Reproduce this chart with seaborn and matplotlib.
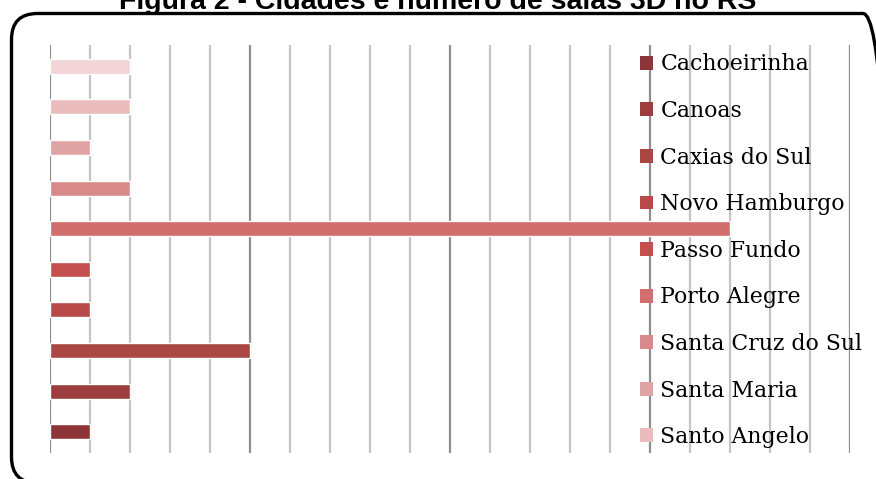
import matplotlib
matplotlib.use("Agg")
import matplotlib.pyplot as plt
from matplotlib.patches import FancyBboxPatch, Patch
import seaborn as sns
import pandas as pd

# Number of 3D cinema rooms per city (Rio Grande do Sul)
cities = ["Cachoeirinha", "Canoas", "Caxias do Sul", "Novo Hamburgo", "Passo Fundo",
          "Porto Alegre", "Santa Cruz do Sul", "Santa Maria", "Santo Angelo", "São Leopoldo"]
rooms = [1, 2, 5, 1, 1, 17, 2, 1, 2, 2]
colors = ["#8C3538", "#9C3E3E", "#AA4644", "#B84B4A", "#C44F4F",
          "#D06D6D", "#D88989", "#DFA3A3", "#EABCBD", "#F2D3D6"]
legend_count = 9
title = "Figura 2 - Cidades e número de salas 3D no RS"

df = pd.DataFrame({"cidade": cities, "salas": rooms})

sns.set_theme(style="white")
fig = plt.figure(figsize=(8.76, 4.79), dpi=100)
W, H = 876, 479
ax = fig.add_axes([50 / W, 1 - 453 / H, 800 / W, 408 / H])

sns.barplot(data=df, x="salas", y="cidade", hue="cidade", palette=colors,
            orient="h", width=0.37, legend=False, ax=ax, saturation=1)

ax.set_xlim(0, 20)
ax.set_ylim(-0.52, 9.52)
ax.set_xticks(range(0, 21, 5))
ax.set_xticks(range(0, 21, 1), minor=True)
ax.grid(False)
ax.grid(True, which="major", axis="x", color="#8E8E8E", linewidth=1.6)
ax.grid(True, which="minor", axis="x", color="#C4C4C4", linewidth=1.6)
ax.set_axisbelow(True)
ax.tick_params(which="both", length=0, labelbottom=False, labelleft=False)
ax.set_xlabel("")
ax.set_ylabel("")
for s in ax.spines.values():
    s.set_visible(False)
ax.patch.set_alpha(0)

handles = [Patch(facecolor=colors[i], edgecolor="none", label=cities[i])
           for i in range(legend_count)]
leg = fig.legend(handles=handles, loc="upper left",
                 bbox_to_anchor=(640 / W, 1 - 53.5 / H), bbox_transform=fig.transFigure,
                 frameon=False, borderpad=0, borderaxespad=0,
                 handlelength=0.6, handleheight=0.6, handletextpad=0.33,
                 labelspacing=1.12, prop={"family": "DejaVu Serif", "size": 15.8})
for t in leg.get_texts():
    t.set_color("black")

fig.text(438 / W, 1 - 9 / H, title, ha="center", va="baseline", color="black",
         fontsize=20.5, fontweight="bold", family="Liberation Sans")

# rounded outer frame, running off the right and bottom edges
x0, y0, x1, y1 = 11.5, -4, 889, 465.5
frame = FancyBboxPatch((x0 / W, y0 / H), (x1 - x0) / W, (y1 - y0) / H,
                       boxstyle=f"round,pad=0,rounding_size={26 / W}",
                       mutation_aspect=W / H,
                       transform=fig.transFigure, facecolor="none",
                       edgecolor="black", linewidth=2.4, clip_on=False)
fig.add_artist(frame)

fig.savefig("out.png", dpi=100)
